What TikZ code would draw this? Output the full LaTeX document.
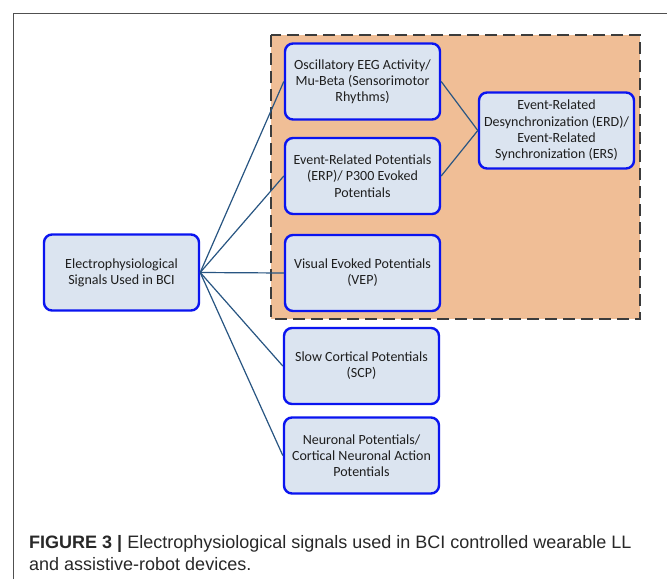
\documentclass[tikz,border=0pt]{standalone}
\usepackage{fontspec}
\setmainfont{Carlito}
\newfontfamily\capfont{Liberation Sans}
\begin{document}
\begin{tikzpicture}[x=1pt,y=-1pt,
  sigbox/.style={draw={rgb,255:red,10;green,20;blue,240}, line width=2.4pt, rounded corners=8pt,
    fill={rgb,255:red,219;green,228;blue,240}, minimum width=155pt, minimum height=76pt,
    align=center, font=\fontsize{14}{16.2}\selectfont, text={rgb,255:red,30;green,30;blue,30}, inner sep=1pt},
  link/.style={draw={rgb,255:red,40;green,85;blue,130}, line width=1.2pt},
  captext/.style={anchor=base west, inner sep=0pt, font=\capfont\fontsize{18}{22}\selectfont, text={rgb,255:red,40;green,40;blue,40}}
]
\useasboundingbox (0,0) rectangle (667,579);
\fill[white] (0,0) rectangle (667,579);
\draw[line width=1pt, draw={rgb,255:red,80;green,80;blue,80}] (13,579) -- (13,13) -- (667,13);
\draw[fill={rgb,255:red,240;green,190;blue,150}, draw={rgb,255:red,60;green,60;blue,60}, line width=2pt, dash pattern=on 12pt off 6pt] (271,35) rectangle (640,319);

\node[sigbox] (osc) at (362.5,81.5) {Oscillatory EEG Activity/\\Mu-Beta (Sensorimotor\\Rhythms)};
\node[sigbox] (erp) at (362.5,176) {Event-Related Potentials\\(ERP)/ P300 Evoked\\Potentials};
\node[sigbox] (vep) at (362.5,273) {Visual Evoked Potentials\\(VEP)};
\node[sigbox] (erd) at (556.5,130.5) {Event-Related\\Desynchronization (ERD)/\\Event-Related\\Synchronization (ERS)};
\node[sigbox] (scp) at (361.5,366) {Slow Cortical Potentials\\(SCP)};
\node[sigbox] (neu) at (361.5,455.5) {Neuronal Potentials/\\Cortical Neuronal Action\\Potentials};
\node[sigbox] (eps) at (121.5,272.5) {Electrophysiological\\Signals Used in BCI};

\foreach \t in {osc,erp,vep,scp,neu} \draw[link] (eps.east) -- (\t.west);
\draw[link] (osc.east) -- (erd.west);
\draw[link] (erp.east) -- (erd.west);

\node[captext] (cap1) at (29,548) {\textbf{FIGURE 3 |} Electrophysiological signals used in BCI controlled wearable LL};
\node[captext] (cap2) at (29,570) {and assistive-robot devices.};
\end{tikzpicture}
\end{document}
